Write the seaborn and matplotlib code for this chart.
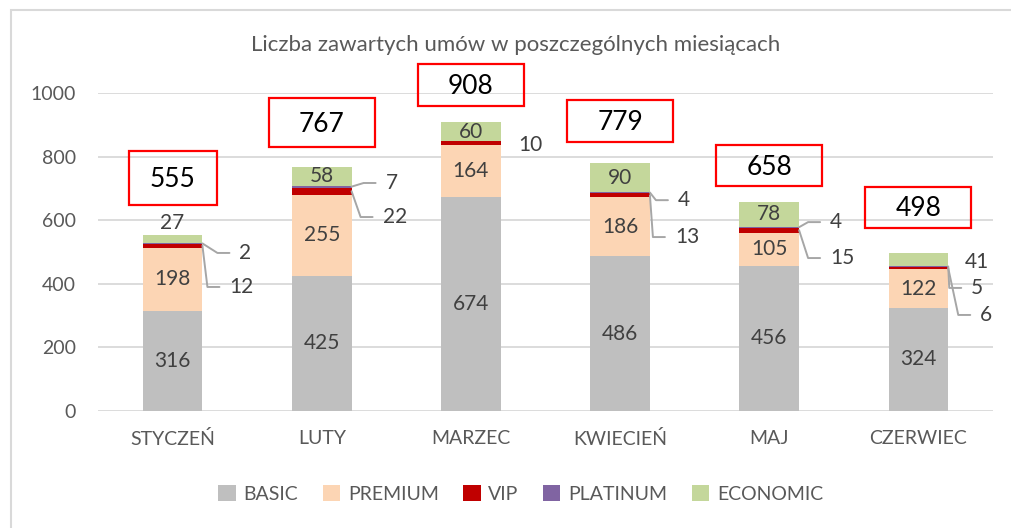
import numpy as np
import pandas as pd
import seaborn as sns
import matplotlib.pyplot as plt
from matplotlib.patches import Patch, Rectangle

# -----------------------------
# dane
# -----------------------------
months = ["STYCZEŃ", "LUTY", "MARZEC", "KWIECIEŃ", "MAJ", "CZERWIEC"]
series = ["BASIC", "PREMIUM", "VIP", "PLATINUM", "ECONOMIC"]
basic = [316, 425, 674, 486, 456, 324]
premium = [198, 255, 164, 186, 105, 122]
vip = [12, 22, 10, 13, 15, 6]
platinum = [2, 7, 0, 4, 4, 5]
economic = [27, 58, 60, 90, 78, 41]

colors = {"BASIC": "#bfbfbf", "PREMIUM": "#fcd5b4", "VIP": "#c00000",
          "PLATINUM": "#8064a2", "ECONOMIC": "#c4d79b"}

values = pd.DataFrame({"BASIC": basic, "PREMIUM": premium, "VIP": vip,
                       "PLATINUM": platinum, "ECONOMIC": economic}, index=months)
cum = values.cumsum(axis=1)
totals = values.sum(axis=1)

# -----------------------------
# wykres
# -----------------------------
sns.set_style("white")
plt.rcParams["font.family"] = ["Lato", "DejaVu Sans"]

fig = plt.figure(figsize=(10.11, 5.28), dpi=100)
ax = fig.add_axes([98 / 1011, 1 - 411 / 528, 895 / 1011, 318 / 528])

# stos: rysujemy sumy skumulowane od najwyzszej
for s in reversed(series):
    sns.barplot(x=months, y=cum[s].values, color=colors[s], width=0.4,
                saturation=1, linewidth=0, ax=ax, zorder=2)

ax.set_xlim(-0.5, 5.5)
ax.set_ylim(0, 1000)
ax.set_yticks(range(0, 1001, 200))
ax.set_xlabel("")
ax.set_ylabel("")
ax.grid(axis="y", color="#d9d9d9", linewidth=1.3, zorder=0)
ax.set_axisbelow(True)
for sp in ax.spines.values():
    sp.set_visible(False)
ax.tick_params(axis="both", length=0, labelsize=14, labelcolor="#595959")
ax.tick_params(axis="x", pad=14)
ax.tick_params(axis="y", pad=16)

lab_kw = dict(fontsize=15, color="#404040", zorder=5)
px = 1 / 149.0   # jednostki osi x na piksel
py = 1 / 0.318   # jednostki osi y na piksel

# etykiety wewnatrz segmentow
for i, m in enumerate(months):
    ax.text(i, basic[i] / 2, str(basic[i]), ha="center", va="center", **lab_kw)
    ax.text(i, basic[i] + premium[i] / 2, str(premium[i]), ha="center", va="center", **lab_kw)
    if i not in (0, 5):
        ax.text(i, totals.iloc[i] - economic[i] / 2, str(economic[i]),
                ha="center", va="center", **lab_kw)

# etykiety zewnetrzne: (miesiac, seria, y etykiety, odstep px, linia)
outside = [
    (0, "ECONOMIC", 591, None, False),
    (0, "PLATINUM", 497, 37, True),
    (0, "VIP", 390, 27, True),
    (1, "PLATINUM", 717, 34, True),
    (1, "VIP", 610, 31, True),
    (2, "VIP", 836, 17, False),
    (3, "PLATINUM", 663, 28, True),
    (3, "VIP", 547, 25, True),
    (4, "PLATINUM", 594, 31, True),
    (4, "VIP", 481, 31, True),
    (5, "ECONOMIC", 469, 17, False),
    (5, "PLATINUM", 387, 23, True),
    (5, "VIP", 302, 32, True),
]
for i, s, ly, dx, leader in outside:
    v = values.loc[months[i], s]
    if dx is None:
        ax.text(i, ly, str(v), ha="center", va="center", **lab_kw)
        continue
    right = i + 0.2
    tx = right + dx * px
    ax.text(tx, ly, str(v), ha="left", va="center", **lab_kw)
    if leader:
        seg = cum.loc[months[i], s] - v / 2
        ax.plot([right, tx - 22 * px, tx - 10 * px], [seg, ly, ly],
                color="#a6a6a6", linewidth=1.4, zorder=4, clip_on=False)

# ramki z sumami
box_y = [733, 907, 1025, 912, 772, 640]
box_w = [0.59, 0.71, 0.71, 0.71, 0.71, 0.71]
box_h = [54, 49, 42, 42, 41, 41]
for i in range(len(months)):
    h = box_h[i] * py
    ax.add_patch(Rectangle((i - box_w[i] / 2, box_y[i] - h / 2), box_w[i], h,
                           fill=False, edgecolor="#ff0000", linewidth=1.6,
                           clip_on=False, zorder=6))
    ax.text(i, box_y[i] - 9 * py, str(totals.iloc[i]), ha="center",
            va="baseline", fontsize=19, color="black", zorder=7)

# tytul
fig.text(0.51, 1 - 45 / 528, "Liczba zawartych umów w poszczególnych miesiącach",
         ha="center", va="center", fontsize=16, color="#595959")

# legenda
handles = [Patch(facecolor=colors[s], edgecolor="none", label=s) for s in series]
fig.legend(handles=handles, loc="center", bbox_to_anchor=(0.515, 1 - 494 / 528),
           ncol=5, frameon=False, fontsize=14, handlelength=0.9, handleheight=0.9,
           handletextpad=0.4, columnspacing=1.25, labelcolor="#595959")

# ramka wykresu
fig.patches.append(Rectangle((10.5 / 1011, -0.1), 1.2, 1.1 - 10.5 / 528,
                             transform=fig.transFigure, fill=False,
                             edgecolor="#d9d9d9", linewidth=1.5))

fig.savefig("out.png", dpi=100)
